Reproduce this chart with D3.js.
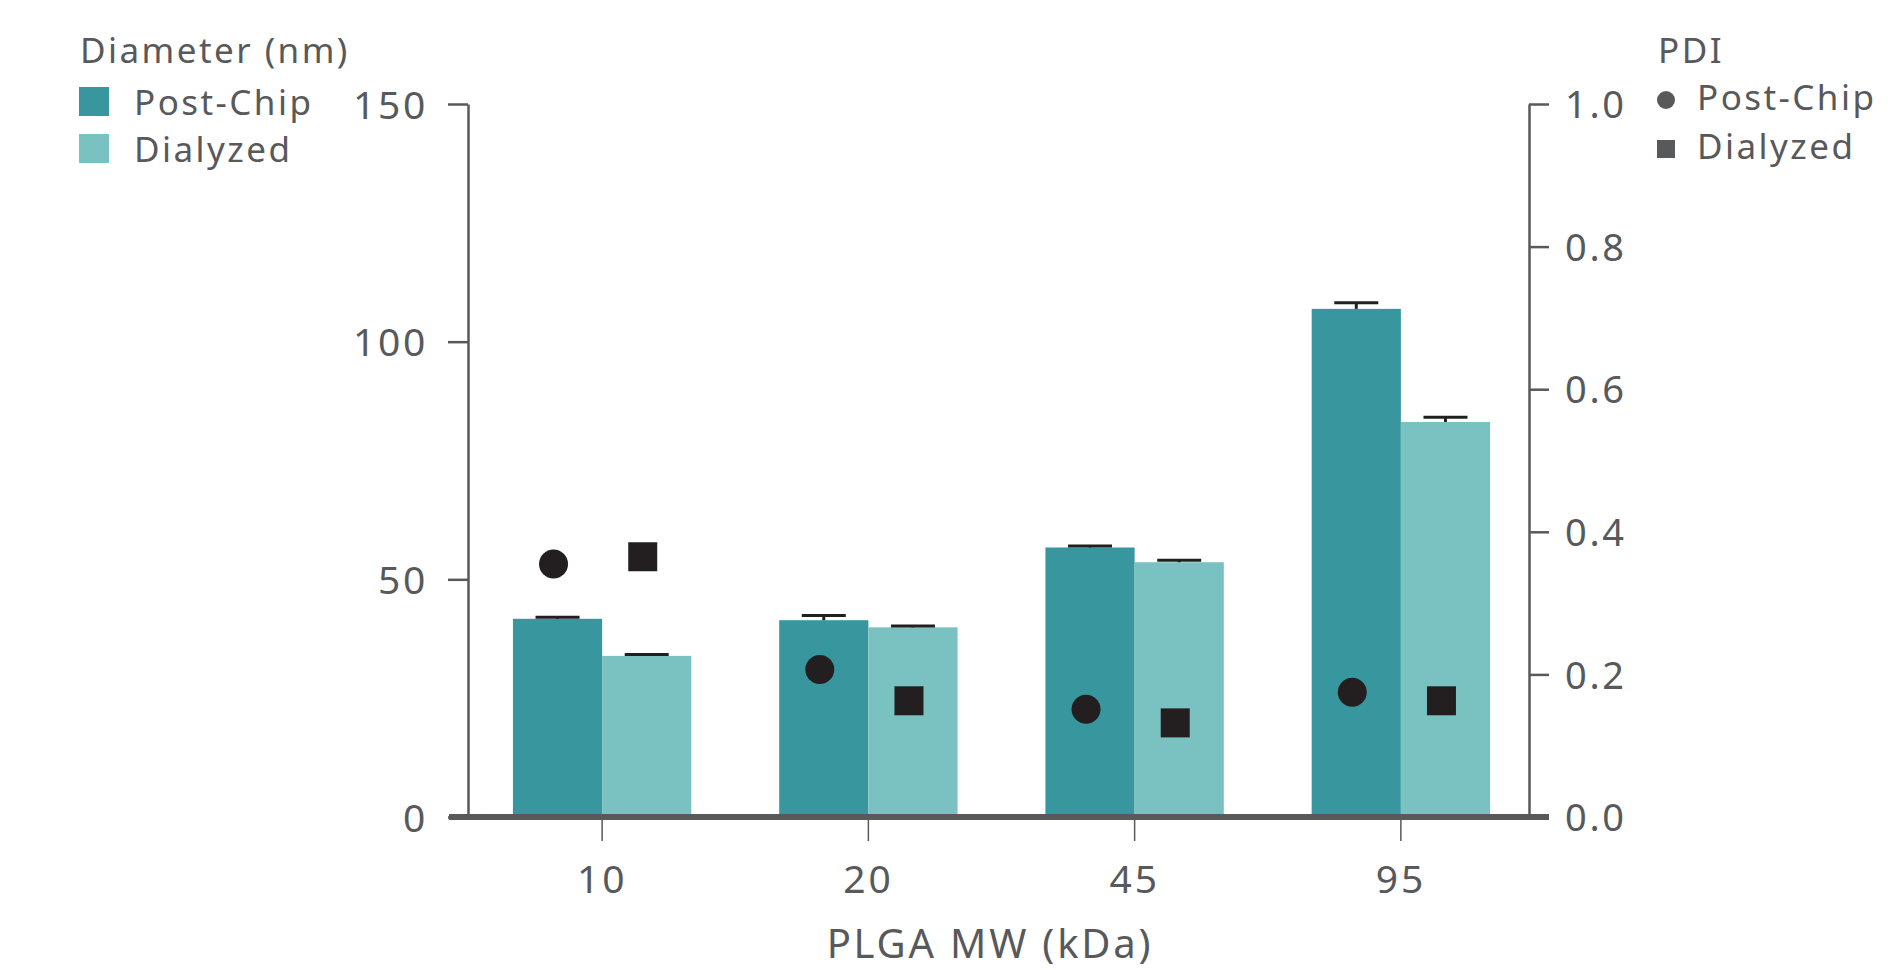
<!DOCTYPE html>
<html>
<head>
<meta charset="utf-8">
<script src="https://cdn.jsdelivr.net/npm/d3@7"></script>
<style>
  body { margin: 0; background: #fff; }
  svg text { font-family: "Noto Sans", sans-serif; fill: #58595b; letter-spacing: 0.07em; }
</style>
</head>
<body>
<div id="chart"></div>
<script>
// PLGA MW categories
const categories = ["10", "20", "45", "95"];
// Diameter (nm), left axis
const diameterPostChip = [41.7, 41.4, 56.7, 106.9];
const diameterDialyzed = [33.9, 39.9, 53.6, 83.1];
const errPostChip = [0.3, 1.0, 0.3, 1.3];
const errDialyzed = [0.3, 0.3, 0.4, 1.0];
// PDI, right axis
const pdiPostChip = [0.355, 0.207, 0.151, 0.175];
const pdiDialyzed = [0.365, 0.163, 0.132, 0.163];
// tick labels
const leftTicks = [0, 50, 100, 150];
const rightTicks = [0, 0.2, 0.4, 0.6, 0.8, 1.0];
const seriesNames = ["Post-Chip", "Dialyzed"];

const W = 1891, H = 970;
const colors = ["#38979e", "#7ac2c1"];
const ink = "#231f20";
const grey = "#58595b";

const svg = d3.select("#chart")
    .append("svg")
    .attr("width", W)
    .attr("height", H);

// scales
const x0 = d3.scaleBand()
    .domain(categories)
    .range([469, 1534])
    .paddingInner(0.33)
    .paddingOuter(0.165);

const x1 = d3.scaleBand()
    .domain(seriesNames)
    .range([0, x0.bandwidth()]);

const yL = d3.scaleLinear().domain([0, 150]).range([817, 104]);
const yR = d3.scaleLinear().domain([0, 1]).range([817, 104]);

const rows = categories.map((c, i) => ({
    cat: c,
    vals: [
        {s: seriesNames[0], d: diameterPostChip[i], e: errPostChip[i], p: pdiPostChip[i]},
        {s: seriesNames[1], d: diameterDialyzed[i], e: errDialyzed[i], p: pdiDialyzed[i]}
    ]
}));

// bars
const groups = svg.append("g").selectAll("g")
    .data(rows)
    .enter()
    .append("g")
    .attr("transform", d => `translate(${x0(d.cat)},0)`);

groups.selectAll("rect")
    .data(d => d.vals)
    .enter()
    .append("rect")
    .attr("x", d => x1(d.s))
    .attr("width", x1.bandwidth())
    .attr("y", d => yL(d.d))
    .attr("height", d => yL(0) - yL(d.d))
    .attr("fill", (d, i) => colors[i]);

// error bars
const capW = 44;
const err = groups.selectAll(".err")
    .data(d => d.vals)
    .enter()
    .append("g")
    .attr("class", "err")
    .attr("stroke", ink)
    .attr("stroke-width", 3);

err.append("line")
    .attr("x1", d => x1(d.s) + x1.bandwidth() / 2)
    .attr("x2", d => x1(d.s) + x1.bandwidth() / 2)
    .attr("y1", d => yL(d.d))
    .attr("y2", d => yL(d.d + d.e));

err.append("line")
    .attr("x1", d => x1(d.s) + x1.bandwidth() / 2 - capW / 2)
    .attr("x2", d => x1(d.s) + x1.bandwidth() / 2 + capW / 2)
    .attr("y1", d => yL(d.d + d.e))
    .attr("y2", d => yL(d.d + d.e));

// PDI markers
const mOff = -4;
groups.append("circle")
    .attr("cx", d => x1(seriesNames[0]) + x1.bandwidth() / 2 + mOff)
    .attr("cy", d => yR(d.vals[0].p))
    .attr("r", 14.5)
    .attr("fill", ink);

const sq = 29;
groups.append("rect")
    .attr("x", d => x1(seriesNames[1]) + x1.bandwidth() / 2 + mOff - sq / 2)
    .attr("y", d => yR(d.vals[1].p) - sq / 2)
    .attr("width", sq)
    .attr("height", sq)
    .attr("fill", ink);

// left axis
const axL = svg.append("g")
    .attr("transform", "translate(468,0)")
    .call(d3.axisLeft(yL).tickValues(leftTicks).tickSize(20).tickPadding(20).tickSizeOuter(0));
axL.select(".domain").attr("stroke", grey).attr("stroke-width", 2.5);
axL.selectAll(".tick line").attr("stroke", grey).attr("stroke-width", 2.5);
axL.selectAll(".tick text").attr("font-size", 39).attr("fill", grey).attr("dy", "0.36em");

// right axis
const axR = svg.append("g")
    .attr("transform", "translate(1529,0)")
    .call(d3.axisRight(yR).tickValues(rightTicks).tickFormat(d3.format(".1f")).tickSize(20).tickPadding(16).tickSizeOuter(0));
axR.select(".domain").attr("stroke", grey).attr("stroke-width", 2.5);
axR.selectAll(".tick line").attr("stroke", grey).attr("stroke-width", 2.5);
axR.selectAll(".tick text").attr("font-size", 38).attr("fill", grey).attr("dy", "0.36em");

// bottom axis
const axB = svg.append("g")
    .attr("transform", "translate(0,817)")
    .call(d3.axisBottom(x0).tickSize(24).tickPadding(24).tickSizeOuter(0));
axB.select(".domain").remove();
axB.selectAll(".tick line").attr("stroke", grey).attr("stroke-width", 1.5);
axB.selectAll(".tick text").attr("font-size", 39).attr("fill", grey);

// thick baseline
svg.append("line")
    .attr("x1", 449)
    .attr("x2", 1549)
    .attr("y1", yL(0))
    .attr("y2", yL(0))
    .attr("stroke", grey)
    .attr("stroke-width", 6);

// x axis title
svg.append("text")
    .attr("x", 990)
    .attr("y", 958)
    .attr("text-anchor", "middle")
    .attr("font-size", 40)
    .text("PLGA MW (kDa)");

// left legend
svg.append("text")
    .attr("x", 80)
    .attr("y", 63)
    .attr("font-size", 35)
    .text("Diameter (nm)");

const legL = svg.append("g").selectAll("g")
    .data(seriesNames)
    .enter()
    .append("g")
    .attr("transform", (d, i) => `translate(79,${87 + i * 47})`);
legL.append("rect")
    .attr("width", 30)
    .attr("height", 29)
    .attr("fill", (d, i) => colors[i]);
legL.append("text")
    .attr("x", 55)
    .attr("y", 28)
    .attr("font-size", 35)
    .text(d => d);

// right legend
svg.append("text")
    .attr("x", 1658)
    .attr("y", 63)
    .attr("font-size", 35)
    .text("PDI");

const legR = svg.append("g").selectAll("g")
    .data(seriesNames)
    .enter()
    .append("g")
    .attr("transform", (d, i) => `translate(1666,${100 + i * 49})`);
legR.filter((d, i) => i === 0).append("circle")
    .attr("r", 9)
    .attr("fill", grey);
legR.filter((d, i) => i === 1).append("rect")
    .attr("x", -9)
    .attr("y", -9)
    .attr("width", 18)
    .attr("height", 18)
    .attr("fill", grey);
legR.append("text")
    .attr("x", 31)
    .attr("y", 10)
    .attr("font-size", 35)
    .text(d => d);
</script>
</body>
</html>
